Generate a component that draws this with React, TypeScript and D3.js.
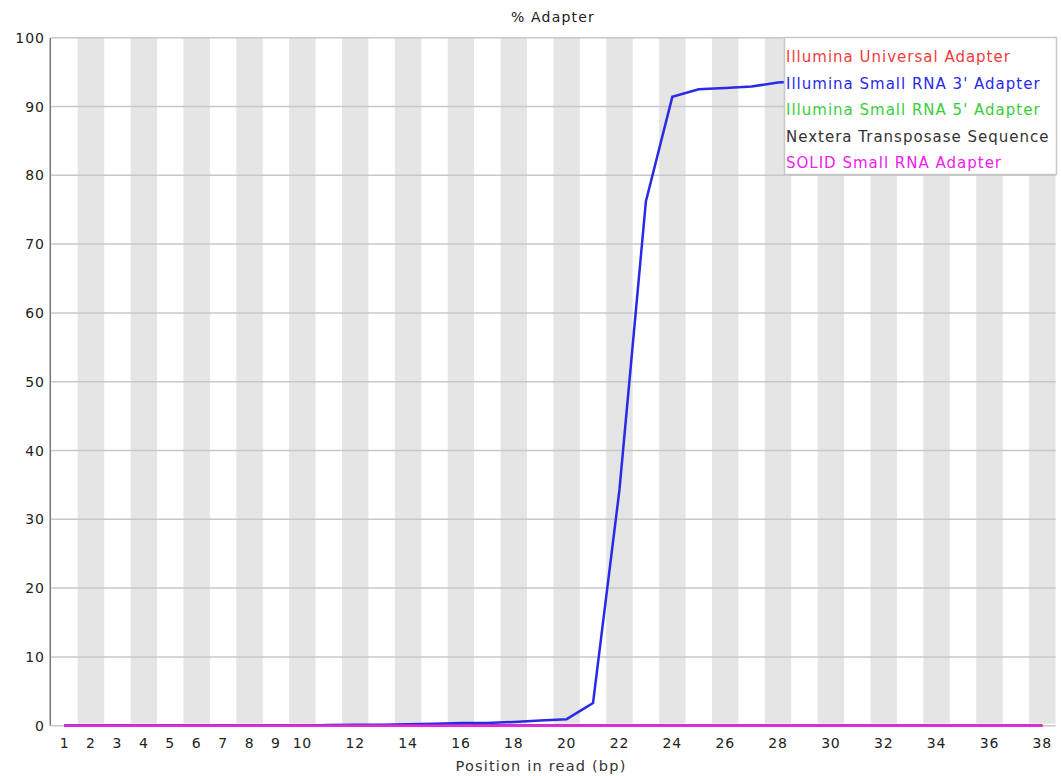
import React, { useRef, useEffect } from "react";
import { select, scaleLinear, line, range } from "d3";

const positions = range(1, 39);
const xTickLabels = [1, 2, 3, 4, 5, 6, 7, 8, 9, 10, 12, 14, 16, 18, 20, 22, 24, 26, 28, 30, 32, 34, 36, 38];
const yTicks = [0, 10, 20, 30, 40, 50, 60, 70, 80, 90, 100];

const universal = [0, 0, 0, 0, 0, 0, 0, 0, 0, 0, 0, 0, 0, 0, 0, 0, 0, 0, 0, 0, 0, 0, 0, 0, 0, 0, 0, 0, 0, 0, 0, 0, 0, 0, 0, 0, 0, 0];
const smallRna3 = [0, 0, 0, 0, 0, 0, 0, 0, 0, 0, 0.1, 0.15, 0.15, 0.2, 0.3, 0.4, 0.4, 0.55, 0.75, 0.95, 3.3, 34.3, 76.2, 91.4, 92.5, 92.7, 92.9, 93.5, 93.7, 93.9, 94, 94.1, 94.2, 94.3, 94.4, 94.5, 94.6, 94.7];
const smallRna5 = [0, 0, 0, 0, 0, 0, 0, 0, 0, 0, 0, 0, 0, 0, 0, 0, 0, 0, 0, 0, 0, 0, 0, 0, 0, 0, 0, 0, 0, 0, 0, 0, 0, 0, 0, 0, 0, 0];
const nextera = [0, 0, 0, 0, 0, 0, 0, 0, 0, 0, 0, 0, 0, 0, 0, 0, 0, 0, 0, 0, 0, 0, 0, 0, 0, 0, 0, 0, 0, 0, 0, 0, 0, 0, 0, 0, 0, 0];
const solid = [0, 0, 0, 0, 0, 0, 0, 0, 0, 0, 0, 0, 0, 0, 0, 0, 0, 0, 0, 0, 0, 0, 0, 0, 0, 0, 0, 0, 0, 0, 0, 0, 0, 0, 0, 0, 0, 0];

const seriesNames = [
  "Illumina Universal Adapter",
  "Illumina Small RNA 3' Adapter",
  "Illumina Small RNA 5' Adapter",
  "Nextera Transposase Sequence",
  "SOLID Small RNA Adapter",
];
const seriesData = [universal, smallRna3, smallRna5, nextera, solid];
const seriesColors = ["#f03c3c", "#2a2ae6", "#3ccc3c", "#333333", "#f020f0"];

const W = 1061;
const H = 776;
const left = 51.3;
const right = 1055.5;
const top = 37.7;
const bottom = 725.7;
const FONT = "DejaVu Sans, sans-serif";

export default function App() {
  const svgRef = useRef<SVGSVGElement>(null);

  useEffect(() => {
    const svg = select(svgRef.current);
    svg.selectAll("*").remove();

    // one band per base position
    const xBand = scaleLinear().domain([0.5, 38.5]).range([left, right]);
    const y = scaleLinear().domain([0, 100]).range([bottom, top]);

    // stripes
    svg
      .append("g")
      .selectAll("rect")
      .data(positions.filter((p) => p % 2 === 0))
      .join("rect")
      .attr("x", (p) => xBand(p - 0.5))
      .attr("y", top)
      .attr("width", xBand(1.5) - xBand(0.5))
      .attr("height", bottom - top - 2)
      .attr("fill", "#e5e5e5");

    // horizontal grid
    svg
      .append("g")
      .selectAll("line")
      .data(yTicks)
      .join("line")
      .attr("x1", left)
      .attr("x2", right)
      .attr("y1", (d) => y(d))
      .attr("y2", (d) => y(d))
      .attr("stroke", "#c8c8c8")
      .attr("stroke-width", 1.5);

    // y axis line
    svg
      .append("line")
      .attr("x1", left - 1)
      .attr("x2", left - 1)
      .attr("y1", top)
      .attr("y2", bottom)
      .attr("stroke", "#777")
      .attr("stroke-width", 1.5);

    // y labels
    svg
      .append("g")
      .selectAll("text")
      .data(yTicks)
      .join("text")
      .attr("x", 45)
      .attr("y", (d) => y(d) + 5)
      .attr("text-anchor", "end")
      .attr("font-family", FONT)
      .attr("font-size", 14)
      .attr("letter-spacing", 1)
      .attr("fill", "#222")
      .text((d) => d);

    // x labels
    svg
      .append("g")
      .selectAll("text")
      .data(xTickLabels)
      .join("text")
      .attr("x", (d) => xBand(d))
      .attr("y", 748)
      .attr("text-anchor", "middle")
      .attr("font-family", FONT)
      .attr("font-size", 14)
      .attr("letter-spacing", 0.8)
      .attr("fill", "#222")
      .text((d) => d);

    // lines
    const mkLine = line<number>()
      .x((_, i) => xBand(positions[i]))
      .y((d) => y(d));

    svg
      .append("g")
      .selectAll("path")
      .data(seriesData)
      .join("path")
      .attr("d", (d) => mkLine(d))
      .attr("fill", "none")
      .attr("stroke", (_, i) => seriesColors[i])
      .attr("stroke-width", 2.5);

    // legend
    const lg = svg.append("g");
    lg.append("rect")
      .attr("x", 784.5)
      .attr("y", 37.5)
      .attr("width", 272)
      .attr("height", 137)
      .attr("fill", "white")
      .attr("stroke", "#c8c8c8")
      .attr("stroke-width", 1.5);
    lg.selectAll("text")
      .data(seriesNames)
      .join("text")
      .attr("x", 786)
      .attr("y", (_, i) => 62 + i * 26.5)
      .attr("font-family", FONT)
      .attr("font-size", 15)
      .attr("letter-spacing", 1)
      .attr("fill", (_, i) => seriesColors[i])
      .text((d) => d);

    // title and x title
    svg
      .append("text")
      .attr("x", 553)
      .attr("y", 22)
      .attr("text-anchor", "middle")
      .attr("font-family", FONT)
      .attr("font-size", 14)
      .attr("letter-spacing", 1.2)
      .attr("fill", "#222")
      .text("% Adapter");

    svg
      .append("text")
      .attr("x", 541)
      .attr("y", 771)
      .attr("text-anchor", "middle")
      .attr("font-family", FONT)
      .attr("font-size", 14.5)
      .attr("letter-spacing", 1.2)
      .attr("fill", "#333")
      .text("Position in read (bp)");
  }, []);

  return (
    <svg
      ref={svgRef}
      width={W}
      height={H}
      style={{ position: "absolute", left: 0, top: 0, background: "white" }}
    />
  );
}
